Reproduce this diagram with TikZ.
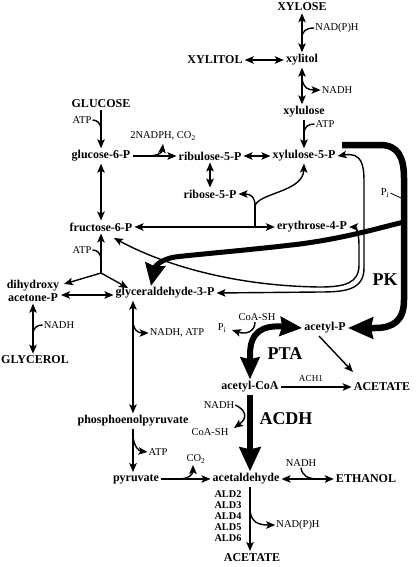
\documentclass[tikz,border=0pt]{standalone}
\usepackage{fontspec}
\setmainfont{Liberation Serif}
\usetikzlibrary{arrows.meta,calc}
\begin{document}
\begin{tikzpicture}[x=1pt,y=-1pt,
  met/.style={font=\fontsize{12}{12.5}\selectfont\bfseries, inner sep=2pt},
  aldlist/.style={font=\fontsize{10.3}{11}\selectfont\bfseries, inner sep=1pt, align=center},
  lab/.style={font=\fontsize{10.5}{11}\selectfont, inner sep=1pt},
  labsmall/.style={font=\fontsize{9.2}{10}\selectfont, inner sep=1pt},
  big/.style={font=\fontsize{18}{18}\selectfont\bfseries, inner sep=1pt},
  ln/.style={line width=1.4pt},
  ar/.style={ln, -{Stealth[length=9pt,width=7.5pt,inset=2pt]}},
  dar/.style={ln, {Stealth[length=9pt,width=7.5pt,inset=2pt]}-{Stealth[length=9pt,width=7.5pt,inset=2pt]}},
  fatar/.style={line width=5.5pt, -{Stealth[length=24pt,width=21pt,inset=2pt]}},
  fatdar/.style={line width=6pt, {Stealth[length=22pt,width=19pt,inset=2pt]}-{Stealth[length=22pt,width=19pt,inset=2pt]}},
  pkar/.style={line width=6.5pt, -{Stealth[length=25pt,width=21pt,inset=2pt]}},
  brar/.style={line width=5pt, -{Stealth[length=22pt,width=20pt,inset=2pt]}},
]
\useasboundingbox (0,0) rectangle (416,567);

% metabolites
\node[met] (xylose) at (302,7) {XYLOSE};
\node[met] (xylitol) at (302,60) {xylitol};
\node[met] (xylitolout) at (215,60) {XYLITOL};
\node[met] (xylulose) at (304,112) {xylulose};
\node[met] (glucose) at (101,104) {GLUCOSE};
\node[met] (g6p) at (101,156) {glucose-6-P};
\node[met] (ru5p) at (210,156) {ribulose-5-P};
\node[met] (xu5p) at (304,156) {xylulose-5-P};
\node[met] (r5p) at (210,194) {ribose-5-P};
\node[met] (f6p) at (101,227) {fructose-6-P};
\node[met] (e4p) at (312,227) {erythrose-4-P};
\node[met,align=center] (dhap) at (33,291) {dihydroxy\\acetone-P};
\node[met] (gap) at (165,293) {glyceraldehyde-3-P};
\node[met] (glycerol) at (35,360) {GLYCEROL};
\node[met] (acp) at (325,328) {acetyl-P};
\node[met] (acoa) at (250,387) {acetyl-CoA};
\node[met] (acetA) at (382,387) {ACETATE};
\node[met] (pep) at (133,421) {phosphoenolpyruvate};
\node[met] (pyr) at (136,479) {pyruvate};
\node[met] (acald) at (246,479) {acetaldehyde};
\node[met] (etoh) at (366,479) {ETHANOL};
\node[aldlist] (ald) at (228,516) {ALD2\\ALD3\\ALD4\\ALD5\\ALD6};
\node[met] (acetB) at (252,558) {ACETATE};

% cofactor labels
\node[lab] (nadph1) at (337,28) {NAD(P)H};
\node[lab] (nadh1) at (337,90) {NADH};
\node[lab] (atp1) at (325,124) {ATP};
\node[lab] (atp0) at (82,120) {ATP};
\node[lab] (nadphco) at (163,136) {2NADPH, CO\textsubscript{2}};
\node[lab] (pi1) at (385,193) {P\textsubscript{i}};
\node[lab] (atp2) at (82,250) {ATP};
\node[lab] (nadh2) at (59,325) {NADH};
\node[lab] (nadhatp) at (177,333) {NADH, ATP};
\node[lab] (coash1) at (257,317) {CoA-SH};
\node[lab] (pi2) at (222,328) {P\textsubscript{i}};
\node[labsmall] (ach1) at (311,378) {ACH1};
\node[lab] (nadh3) at (219,405) {NADH};
\node[lab] (coash2) at (210,432) {CoA-SH};
\node[lab] (atp3) at (158,452) {ATP};
\node[lab] (co2) at (196,459) {CO\textsubscript{2}};
\node[lab] (nadh4) at (301,463) {NADH};
\node[lab] (nadph2) at (298,525) {NAD(P)H};
\node[big] (pk) at (385,280) {PK};
\node[big] (pta) at (285,354) {PTA};
\node[big] (acdh) at (286,419) {ACDH};

% coordinates
\coordinate (tk) at (255,227);
\coordinate (tkb) at (255,206);
\coordinate (j) at (101,273);
\coordinate (f6pin) at (114,238);

% xylose branch
\draw[dar] (xylose.south) -- (xylose.south |- xylitol.north);
\draw[ln] (nadph1.west) .. controls (306,28) and (302,31) .. (302,38);
\draw[dar] (xylitolout.east) -- (xylitol.west);
\draw[dar] (xylitol.south) -- (xylitol.south |- xylulose.north);
\draw[ar] (302,78) .. controls (303,88) and (308,90) .. (nadh1.west);
\draw[ar] (xylulose.south) -- (xylulose.south |- xu5p.north);
\draw[ln] (atp1.west) .. controls (308,124) and (304,127) .. (304,134);

% glucose / PPP
\draw[ar] (glucose.south) -- (glucose.south |- g6p.north);
\draw[ln] (atp0.east) .. controls (97,120) and (101,123) .. (101,130);
\draw[ar] (g6p.east) -- (ru5p.west);
\draw[ar] (147,156) .. controls (157,156) and (162,153) .. (163,144);
\draw[dar] (ru5p.east) -- (xu5p.west);
\draw[dar] (ru5p.south) -- (ru5p.south |- r5p.north);
\draw[dar] (g6p.south) -- (g6p.south |- f6p.north);
\draw[dar] (f6p.east) -- (e4p.west);
\draw[ln] (tk) -- (tkb);
\draw[ar] (tkb) .. controls (255,198) and (252,194) .. (r5p.east);
\draw[ar] (tkb) .. controls (258,193) and (303,192) .. (xu5p.south);

% transketolase / transaldolase curves
\draw[dar] (xu5p.east) .. controls (362,152) and (364,165) .. (364,182) -- (364,268) .. controls (364,290) and (345,292) .. (320,292) -- (gap.east);
\draw[dar] (e4p.east) .. controls (356,227) and (359,233) .. (359,245) -- (359,265) .. controls (359,283) and (345,287) .. (320,287) .. controls (230,286) and (160,263) .. (f6pin);

% glycolysis upper
\draw[ar] (j) -- (f6p.south);
\draw[ln] (atp2.east) .. controls (97,250) and (101,253) .. (101,260);
\draw[ar] (j) -- (64,284);
\draw[ar] (j) -- (128,288);
\draw[dar] (61,295) -- (gap.west |- 61,295);
\draw[dar] (dhap.south) -- (dhap.south |- glycerol.north);
\draw[ln] (nadh2.west) .. controls (37,325) and (33,328) .. (33,334);

% glycolysis lower
\draw[dar] (pep.north |- gap.south) -- (pep.north);
\draw[ar] (133,320) .. controls (133,330) and (138,333) .. (nadhatp.west);
\draw[ar] (pep.south) -- (pep.south |- pyr.north);
\draw[ar] (133,436) .. controls (134,447) and (139,451) .. (atp3.west);
\draw[ar] (pyr.east) -- (acald.west);
\draw[ar] (178,479) .. controls (189,479) and (193,474) .. (193,465);
\draw[dar] (acald.east) -- (etoh.west);
\draw[ln] (nadh4.south) .. controls (302,475) and (307,479) .. (318,479);
\draw[ar] (250,487) -- (250,551);
\draw[ar] (250,510) .. controls (251,522) and (258,525) .. (nadph2.west);

% acetyl part
\draw[ar] (acoa.east) -- (acetA.west);
\draw[ar] (319,336) -- (353,372);
\draw[fatar] (acoa.south) -- (acoa.south |- acald.north);
\draw[ar] (nadh3.east) .. controls (246,410) and (248,418) .. (234,428);
\draw[fatdar] (acp.west) .. controls (262,325) and (250,332) .. (250,355) -- (acoa.north);
\draw[ar] (255,322) .. controls (255,331) and (247,335) .. (232,330);

% phosphoketolase
\draw[pkar] (342,145) -- (380,145) .. controls (398,145) and (404,157) .. (404,178) -- (404,300) .. controls (404,321) and (393,328) .. (375,328) -- (acp.east);
\draw[brar] (404,222) .. controls (375,229) and (345,238) .. (300,244) .. controls (250,250) and (200,254) .. (175,257) .. controls (162,259) and (155,266) .. (151,286);
\draw[line width=0.8pt] (pi1.east) -- (401,198);
\end{tikzpicture}
\end{document}
